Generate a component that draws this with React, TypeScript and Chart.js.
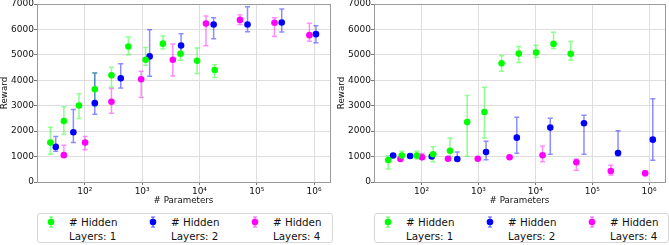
import React, { useEffect, useRef } from "react";
import { Chart, registerables } from "chart.js";

Chart.register(...registerables);

// ---------- Data (left panel) ----------
const leftParams1 = [25, 43, 79, 149, 291, 575, 1150, 2300, 4680, 9100, 18500];
const leftReward1 = [1550, 2400, 3010, 3650, 4200, 5330, 4810, 5440, 5045, 4770, 4405];
const leftLow1 = [1095, 1880, 2500, 2990, 3740, 5005, 4590, 5230, 4785, 4265, 4105];
const leftHigh1 = [2150, 2960, 3470, 4290, 4510, 5700, 5290, 5740, 5305, 5270, 4615];

const leftParams2 = [31, 63, 149, 423, 1350, 4780, 17700, 69000, 273000, 1080000];
const leftReward2 = [1380, 1955, 3100, 4080, 4940, 5370, 6195, 6195, 6270, 5815];
const leftLow2 = [1210, 1550, 2660, 3700, 4160, 5045, 5630, 5905, 5895, 5475];
const leftHigh2 = [1785, 2855, 4290, 4655, 5985, 5830, 6455, 6895, 6805, 6140];

const leftParams4 = [43, 101, 291, 960, 3430, 13000, 51000, 204000, 830000];
const leftReward4 = [1055, 1550, 3155, 4040, 4810, 6230, 6375, 6260, 5775];
const leftLow4 = [1000, 1265, 2700, 3325, 4170, 5360, 6195, 5725, 5540];
const leftHigh4 = [1445, 1785, 3675, 4355, 5425, 6530, 6570, 6455, 6245];

// ---------- Data (right panel) ----------
const rightParams1 = [26, 45, 83, 160, 316, 634, 1273, 2550, 5120, 10300, 20900, 41900];
const rightReward1 = [865, 1045, 1045, 1090, 1230, 2355, 2750, 4670, 5050, 5090, 5430, 5040];
const rightLow1 = [510, 905, 905, 800, 1010, 1010, 1730, 4360, 4700, 4895, 5250, 4790];
const rightHigh1 = [1030, 1205, 1205, 1390, 1730, 3400, 3730, 4975, 5325, 5380, 5890, 5525];

const rightParams2 = [31.6, 63, 151, 425, 1360, 4720, 18300, 71600, 284000, 1160000];
const rightReward2 = [1045, 1020, 1000, 905, 1180, 1744, 2140, 2311, 1142, 1665];
const rightLow2 = [990, 960, 940, 840, 875, 1130, 1090, 1090, 1035, 854];
const rightHigh2 = [1100, 1080, 1075, 1180, 1600, 2547, 2508, 2626, 2020, 3270];

const rightParams4 = [42.5, 102, 292, 973, 3520, 13400, 52600, 212000, 851000];
const rightReward4 = [905, 970, 915, 915, 972, 1050, 775, 433, 342];
const rightLow4 = [855, 905, 870, 870, 920, 800, 460, 276, 250];
const rightHigh4 = [955, 1125, 960, 960, 1020, 1417, 900, 657, 445];

const seriesLabels = ["# Hidden\nLayers: 1", "# Hidden\nLayers: 2", "# Hidden\nLayers: 4"];
const xTickValues = [100, 1000, 10000, 100000, 1000000];
const xTickLabels = ["10\u00b2", "10\u00b3", "10\u2074", "10\u2075", "10\u2076"];
const yTickMax = 7000;
const xTitle = "# Parameters";
const yTitle = "Reward";

const COLORS = ["#00ff00", "#0000ff", "#ff00ff"];
const ERR_COLORS = ["rgba(0,255,0,0.45)", "rgba(0,0,255,0.45)", "rgba(255,0,255,0.45)"];
const FONT = "'DejaVu Sans', sans-serif";

function build(p: number[], r: number[], lo: number[], hi: number[]) {
  return p.map((x, i) => ({ x, y: r[i], lo: lo[i], hi: hi[i] }));
}

const errorBarPlugin = {
  id: "errorBars",
  beforeDatasetsDraw(chart: any) {
    const ctx = chart.ctx;
    const xs = chart.scales.x;
    const ys = chart.scales.y;
    ctx.save();
    chart.data.datasets.forEach((ds: any, di: number) => {
      ctx.strokeStyle = ERR_COLORS[di];
      ctx.lineWidth = 1.5;
      ds.data.forEach((d: any) => {
        const px = xs.getPixelForValue(d.x);
        const pTop = ys.getPixelForValue(d.hi);
        const pBot = ys.getPixelForValue(d.lo);
        ctx.beginPath();
        ctx.moveTo(px, pTop);
        ctx.lineTo(px, pBot);
        ctx.moveTo(px - 2.5, pTop);
        ctx.lineTo(px + 2.5, pTop);
        ctx.moveTo(px - 2.5, pBot);
        ctx.lineTo(px + 2.5, pBot);
        ctx.stroke();
      });
    });
    ctx.restore();
  },
  afterDraw(chart: any) {
    const { left, right, top, bottom } = chart.chartArea;
    const ctx = chart.ctx;
    ctx.save();
    ctx.strokeStyle = "#9a9a9a";
    ctx.lineWidth = 1;
    ctx.strokeRect(Math.round(left) + 0.5, Math.round(top) + 0.5, Math.round(right - left), Math.round(bottom - top));
    ctx.restore();
  },
};

function Panel(props: { left: number; width: number; padRight: number; sets: any[] }) {
  const ref = useRef<HTMLCanvasElement>(null);
  useEffect(() => {
    const chart = new Chart(ref.current as HTMLCanvasElement, {
      type: "scatter",
      data: {
        datasets: props.sets.map((data, i) => ({
          label: seriesLabels[i],
          data,
          backgroundColor: COLORS[i],
          borderColor: COLORS[i],
          pointRadius: 3.3,
          pointBorderWidth: 0,
        })),
      },
      options: {
        animation: false,
        responsive: false,
        layout: { padding: { top: 3, right: props.padRight, left: 0, bottom: 0 } },
        plugins: { legend: { display: false }, tooltip: { enabled: false } },
        scales: {
          x: {
            type: "logarithmic",
            min: 14.6,
            max: 1.9e6,
            afterBuildTicks: (s: any) => {
              s.ticks = xTickValues.map((v) => ({ value: v }));
            },
            afterFit: (s: any) => {
              s.height = 24;
              s.paddingLeft = 0;
              s.paddingRight = 0;
            },
            ticks: {
              autoSkip: false,
              maxRotation: 0,
              padding: 1,
              color: "#111",
              font: { family: FONT, size: 9 },
              callback: (v: any) => {
                const i = xTickValues.indexOf(Number(v));
                return i >= 0 ? xTickLabels[i] : "";
              },
            },
            grid: { color: "#dedede", tickColor: "#777", tickLength: 3 },
            border: { color: "#9a9a9a" },
            title: { display: true, text: xTitle, color: "#111", padding: 0, font: { family: FONT, size: 8.7 } },
          },
          y: {
            min: 0,
            max: yTickMax,
            afterFit: (s: any) => {
              s.width = 37;
              s.paddingTop = 0;
              s.paddingBottom = 0;
            },
            ticks: {
              stepSize: 1000,
              padding: 0,
              color: "#111",
              font: { family: FONT, size: 9 },
              callback: (v: any) => String(v),
            },
            grid: { color: "#dedede", tickColor: "#777", tickLength: 3 },
            border: { color: "#9a9a9a" },
            title: { display: true, text: yTitle, color: "#111", padding: 0, font: { family: FONT, size: 8.7 } },
          },
        },
      },
      plugins: [errorBarPlugin],
    });
    return () => chart.destroy();
  }, []);
  return (
    <canvas
      ref={ref}
      width={props.width}
      height={206}
      style={{ position: "absolute", left: props.left, top: 0, width: props.width, height: 206 }}
    />
  );
}

function LegendMarker(props: { i: number }) {
  return (
    <svg width={12} height={14} style={{ position: "absolute", left: -6, top: 0 }}>
      <line x1={6} y1={2} x2={6} y2={12} stroke={ERR_COLORS[props.i]} strokeWidth={1.5} />
      <line x1={4} y1={2} x2={8} y2={2} stroke={ERR_COLORS[props.i]} strokeWidth={1.5} />
      <line x1={4} y1={12} x2={8} y2={12} stroke={ERR_COLORS[props.i]} strokeWidth={1.5} />
      <circle cx={6} cy={7} r={3.3} fill={COLORS[props.i]} />
    </svg>
  );
}

function Legend(props: { left: number; width: number }) {
  const offsets = [0, 102, 204];
  return (
    <div
      style={{
        position: "absolute",
        left: props.left,
        top: 213,
        width: props.width,
        height: 30,
        border: "1px solid #d6d6d6",
        borderRadius: 3,
        boxSizing: "border-box",
        fontFamily: FONT,
        fontSize: 10.3,
        color: "#111",
      }}
    >
      {seriesLabels.map((lab, i) => (
        <div key={i} style={{ position: "absolute", left: offsets[i], top: 0 }}>
          <div style={{ position: "absolute", left: 13, top: 1 }}>
            <LegendMarker i={i} />
          </div>
          <div style={{ position: "absolute", left: 31, top: 1, lineHeight: "14px", whiteSpace: "pre" }}>{lab}</div>
        </div>
      ))}
    </div>
  );
}

export default function App() {
  const leftSets = [
    build(leftParams1, leftReward1, leftLow1, leftHigh1),
    build(leftParams2, leftReward2, leftLow2, leftHigh2),
    build(leftParams4, leftReward4, leftLow4, leftHigh4),
  ];
  const rightSets = [
    build(rightParams1, rightReward1, rightLow1, rightHigh1),
    build(rightParams2, rightReward2, rightLow2, rightHigh2),
    build(rightParams4, rightReward4, rightLow4, rightHigh4),
  ];
  return (
    <div style={{ position: "fixed", left: 0, top: 0, width: 669, height: 245, background: "#fff", overflow: "hidden" }}>
      <Panel left={0} width={334} padRight={3} sets={leftSets} />
      <Panel left={337} width={332} padRight={2} sets={rightSets} />
      <Legend left={37} width={296} />
      <Legend left={374} width={295} />
    </div>
  );
}
